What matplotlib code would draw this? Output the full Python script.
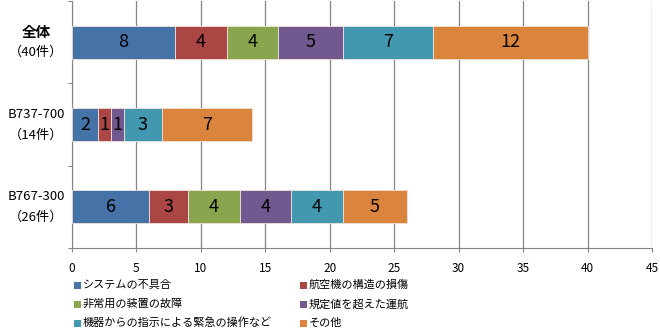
import matplotlib
matplotlib.use("Agg")
import matplotlib.pyplot as plt
from matplotlib.patches import Rectangle

plt.rcParams['font.family'] = ['Noto Sans CJK JP', 'DejaVu Sans']

group_names = ["全体", "B737-700", "B767-300"]
group_counts = ["（40件）", "（14件）", "（26件）"]
series_names = ["システムの不具合", "航空機の構造の損傷", "非常用の装置の故障",
                "規定値を超えた運航", "機器からの指示による緊急の操作など", "その他"]
values = [
    [8, 2, 6],
    [4, 1, 3],
    [4, 0, 4],
    [5, 1, 4],
    [7, 3, 4],
    [12, 7, 5],
]
colors = ["#4572A7", "#AA4643", "#89A54E", "#71588F", "#4198AF", "#DB843D"]
x_ticks = [0, 5, 10, 15, 20, 25, 30, 35, 40, 45]

W, H = 660, 332
fig = plt.figure(figsize=(W / 100, H / 100), dpi=100)
ax = fig.add_axes([72 / W, 1 - 248 / H, 580 / W, 247 / H])

ypos = list(range(len(group_names)))
left = [0] * len(group_names)
for name, vals, col in zip(series_names, values, colors):
    bars = ax.barh(ypos, vals, left=left, height=0.4, color=col,
                   edgecolor="#f0e2da", linewidth=0.6, zorder=3)
    for b, v, l in zip(bars, vals, left):
        if v > 0:
            ax.text(l + v / 2, b.get_y() + b.get_height() / 2, str(v),
                    ha="center", va="center", fontsize=13, color="black",
                    zorder=4)
    left = [a + b for a, b in zip(left, vals)]

ax.set_xlim(0, 45)
ax.set_ylim(2.5, -0.5)
ax.set_xticks(x_ticks)
ax.set_xticklabels([str(t) for t in x_ticks], fontsize=8.5)
ax.set_yticks([-0.5, 0.5, 1.5, 2.5])
ax.set_yticklabels([])
ax.tick_params(axis="y", length=3, color="#868686")
ax.tick_params(axis="x", length=3, color="#868686", pad=7)
ax.grid(axis="x", color="#868686", linewidth=0.9, zorder=0)
for s in ["top", "right"]:
    ax.spines[s].set_visible(False)
for s in ["left", "bottom"]:
    ax.spines[s].set_color("#868686")

# category labels, two lines each, centred left of the axis
ytr = ax.get_yaxis_transform()
for y, nm, cnt in zip(ypos, group_names, group_counts):
    bold = nm == "全体"
    ax.text(-0.062, y - 0.125, nm, transform=ytr, ha="center", va="center",
            fontsize=10.5 if bold else 9.5,
            fontweight="bold" if bold else "normal", clip_on=False)
    ax.text(-0.062, y + 0.125, cnt, transform=ytr, ha="center", va="center",
            fontsize=9.5, clip_on=False)

# legend: two columns, filled row by row
for i, (name, col) in enumerate(zip(series_names, colors)):
    cx = 74 if i % 2 == 0 else 300
    cy = 285 + 19 * (i // 2)
    fig.patches.append(Rectangle((cx / W, 1 - (cy + 3.5) / H), 7 / W, 7 / H,
                                 transform=fig.transFigure,
                                 facecolor=col, edgecolor="none"))
    fig.text((cx + 9) / W, 1 - cy / H, name, ha="left", va="center",
             fontsize=8)

fig.savefig("out.png", dpi=100)
